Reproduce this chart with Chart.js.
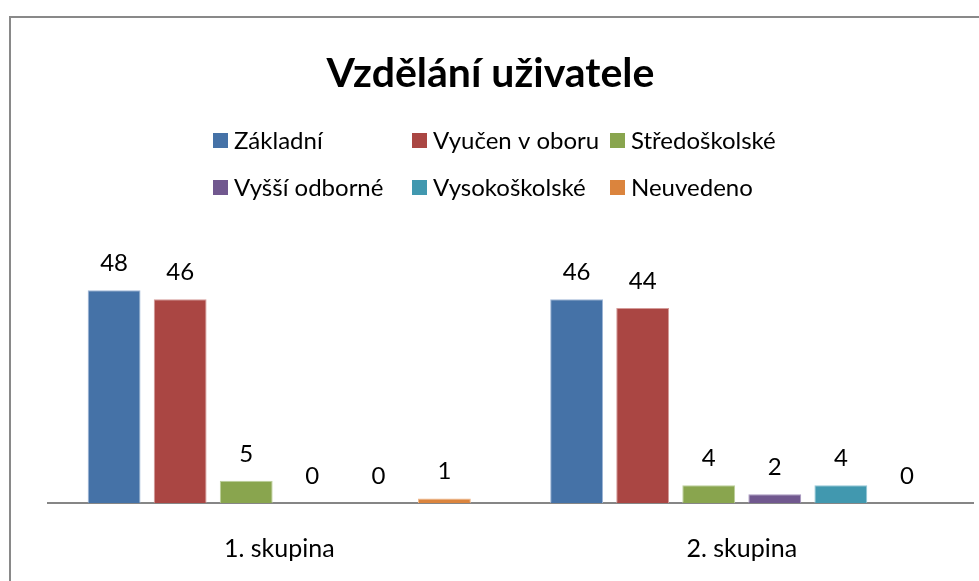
<!DOCTYPE html>
<html>
<head>
<meta charset="utf-8">
<script src="https://cdn.jsdelivr.net/npm/chart.js@4"></script>
<style>
  html, body { margin: 0; padding: 0; background: #fff; }
  #wrap { width: 979px; height: 581px; }
</style>
</head>
<body>
<div id="wrap"><canvas id="grafVzdelani" width="979" height="581"></canvas></div>
<script>
// Dados do gráfico
const skupiny = ['1. skupina', '2. skupina'];
const nazvy = ['Základní', 'Vyučen v oboru', 'Středoškolské', 'Vyšší odborné', 'Vysokoškolské', 'Neuvedeno'];
const zakladni = [48, 46];
const vyucen = [46, 44];
const stredoskolske = [5, 4];
const vyssiOdborne = [0, 2];
const vysokoskolske = [0, 4];
const neuvedeno = [1, 0];

const barvy = ['#4572A7', '#AA4643', '#89A54E', '#71588F', '#4198AF', '#DB843D'];
const okraje = ['#9fb6d6', '#d49a98', '#bcd09a', '#a897bf', '#93c6d6', '#efb98d'];
const hodnoty = [zakladni, vyucen, stredoskolske, vyssiOdborne, vysokoskolske, neuvedeno];

const FONT = 'Lato, "Open Sans", sans-serif';

// Moldura cinza, legenda em grade e rótulos de valores
const doplnky = {
    id: 'doplnky',
    beforeDraw(chart) {
        const ctx = chart.ctx;
        ctx.save();
        ctx.strokeStyle = '#898989';
        ctx.lineWidth = 2;
        ctx.strokeRect(10, 17, 1200, 1200);
        ctx.restore();
    },
    afterDraw(chart) {
        const ctx = chart.ctx;
        ctx.save();
        // legenda: 3 colunas, 2 linhas
        const sloupce = [213, 412, 610];
        const radky = [140, 187];
        ctx.font = '24px ' + FONT;
        ctx.textBaseline = 'middle';
        ctx.textAlign = 'left';
        chart.data.datasets.forEach((ds, i) => {
            const x = sloupce[i % 3];
            const y = radky[Math.floor(i / 3)];
            ctx.fillStyle = ds.backgroundColor;
            ctx.fillRect(x, y - 7, 15, 15);
            ctx.fillStyle = '#000';
            ctx.fillText(ds.label, x + 21, y + 1);
        });
        ctx.restore();
    },
    afterDatasetsDraw(chart) {
        const ctx = chart.ctx;
        ctx.save();
        ctx.font = '24px ' + FONT;
        ctx.fillStyle = '#000';
        ctx.textAlign = 'center';
        ctx.textBaseline = 'middle';
        chart.data.datasets.forEach((ds, i) => {
            chart.getDatasetMeta(i).data.forEach((bar, j) => {
                ctx.fillText(String(ds.data[j]), bar.x, bar.y - 27);
            });
        });
        ctx.restore();
    }
};

const ctx = document.getElementById('grafVzdelani').getContext('2d');
new Chart(ctx, {
    type: 'bar',
    data: {
        labels: skupiny,
        datasets: nazvy.map((n, i) => ({
            label: n,
            data: hodnoty[i],
            backgroundColor: barvy[i],
            borderColor: okraje[i],
            borderWidth: 1,
            categoryPercentage: 0.857,
            barPercentage: 0.8
        }))
    },
    options: {
        responsive: false,
        animation: false,
        layout: { padding: { left: 8, right: 6, top: 0, bottom: 0 } },
        plugins: {
            legend: { display: false },
            tooltip: { enabled: false },
            title: {
                display: true,
                text: 'Vzdělání uživatele',
                color: '#000',
                font: { family: FONT, size: 41, weight: 'bold', lineHeight: 1.2 },
                padding: { top: 49, bottom: 139 }
            }
        },
        scales: {
            x: {
                grid: { display: false, drawTicks: false },
                border: { display: true, color: '#868686', width: 2 },
                ticks: { color: '#000', padding: 31, font: { family: FONT, size: 25 } },
                afterFit: (s) => { s.height = 78; }
            },
            y: {
                min: 0,
                max: 60,
                grid: { display: false, drawTicks: false },
                border: { display: false },
                ticks: { display: false },
                afterFit: (s) => { s.width = 40; }
            }
        }
    },
    plugins: [doplnky]
});
</script>
</body>
</html>
